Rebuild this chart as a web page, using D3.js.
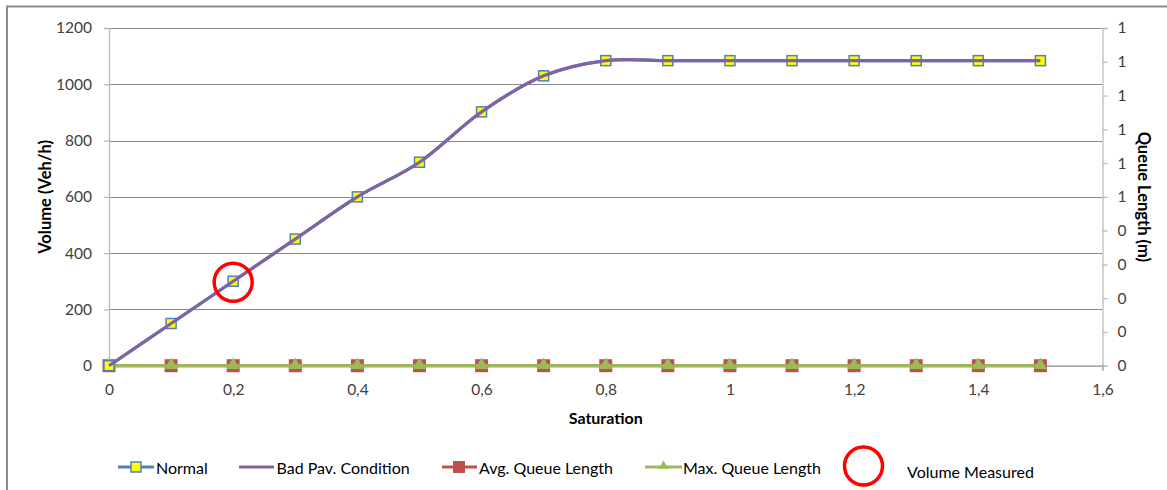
<!DOCTYPE html>
<html>
<head>
<meta charset="utf-8">
<script src="https://cdn.jsdelivr.net/npm/d3@7"></script>
<style>
  html, body { margin: 0; padding: 0; background: #fff; }
  svg { display: block; font-family: Lato, "Open Sans", sans-serif; }
</style>
</head>
<body>
<svg id="chart" width="1167" height="490"></svg>
<script>
// Saturation steps on the x axis
const saturation = [0, 0.1, 0.2, 0.3, 0.4, 0.5, 0.6, 0.7, 0.8, 0.9, 1.0, 1.1, 1.2, 1.3, 1.4, 1.5];
// Volume (Veh/h)
const normalVolume = [0, 150, 300, 450, 600, 723, 902, 1030, 1084, 1084, 1084, 1084, 1084, 1084, 1084, 1084];
const badPavVolume = [0, 150, 300, 450, 600, 723, 902, 1030, 1084, 1084, 1084, 1084, 1084, 1084, 1084, 1084];
// Queue length (m), right axis
const avgQueue = [0, 0, 0, 0, 0, 0, 0, 0, 0, 0, 0, 0, 0, 0, 0, 0];
const maxQueue = [0, 0, 0, 0, 0, 0, 0, 0, 0, 0, 0, 0, 0, 0, 0, 0];
// Measured point
const measured = [{ x: 0.2, y: 300 }];

// Axis ticks and labels
const xTicks = [0, 0.2, 0.4, 0.6, 0.8, 1.0, 1.2, 1.4, 1.6];
const xTickLabels = ["0", "0,2", "0,4", "0,6", "0,8", "1", "1,2", "1,4", "1,6"];
const yTicks = [0, 200, 400, 600, 800, 1000, 1200];
const yTickLabels = ["0", "200", "400", "600", "800", "1000", "1200"];
const y2Ticks = [0, 0.1, 0.2, 0.3, 0.4, 0.5, 0.6, 0.7, 0.8, 0.9, 1.0];
const y2TickLabels = ["0", "0", "0", "0", "0", "1", "1", "1", "1", "1", "1"];

const C = {
  blue: "#4f81bd", purple: "#8064a2", red: "#c0504d", green: "#9bbb59",
  grid: "#8a8a8a", axis: "#bdbdbd", text: "#404040"
};

const svg = d3.select("#chart");

// chart frame
svg.append("rect").attr("x", 7).attr("y", 6.5).attr("width", 1180).attr("height", 500)
  .attr("fill", "none").attr("stroke", "#8c8c8c").attr("stroke-width", 2);

const x = d3.scaleLinear().domain([0, 1.6]).range([109, 1102.5]);
const y = d3.scaleLinear().domain([0, 1200]).range([365.7, 28]);
const y2 = d3.scaleLinear().domain([0, 1]).range([365.7, 28]);

// horizontal gridlines
svg.append("g").selectAll("line").data(yTicks.slice(1)).join("line")
  .attr("x1", x(0)).attr("x2", x(1.6))
  .attr("y1", d => Math.round(y(d)) + 0.5).attr("y2", d => Math.round(y(d)) + 0.5)
  .attr("stroke", C.grid).attr("stroke-width", 1);

// left axis
const yAxis = d3.axisLeft(y).tickValues(yTicks).tickSize(5).tickPadding(12)
  .tickFormat((d, i) => yTickLabels[i]);
const gy = svg.append("g").attr("transform", `translate(${x(0)},0)`).call(yAxis);

// right axis
const y2Axis = d3.axisRight(y2).tickValues(y2Ticks).tickSize(5).tickPadding(10)
  .tickFormat((d, i) => y2TickLabels[i]);
const gy2 = svg.append("g").attr("transform", `translate(${x(1.6)},0)`).call(y2Axis);

// bottom axis
const xAxis = d3.axisBottom(x).tickValues(xTicks).tickSize(5).tickPadding(13)
  .tickFormat((d, i) => xTickLabels[i]);
const gx = svg.append("g").attr("transform", `translate(0,${y(0)})`).call(xAxis);

[gy, gy2, gx].forEach(g => {
  g.select(".domain").attr("stroke", C.axis).attr("stroke-width", 1.3);
  g.selectAll(".tick line").attr("stroke", C.axis).attr("stroke-width", 1.3);
  g.selectAll(".tick text").attr("fill", C.text).attr("font-size", 15.5)
    .attr("font-family", "Lato, 'Open Sans', sans-serif");
});
gx.select(".domain").attr("stroke", C.grid);

// axis titles
const mid = (y(0) + y(1200)) / 2;
svg.append("text").attr("transform", `translate(51,${mid}) rotate(-90)`)
  .attr("text-anchor", "middle").attr("font-size", 16.5).attr("font-weight", "bold")
  .attr("fill", "#000").text("Volume (Veh/h)");
svg.append("text").attr("transform", `translate(1138,${mid}) rotate(90)`)
  .attr("text-anchor", "middle").attr("font-size", 16.5).attr("font-weight", "bold")
  .attr("fill", "#000").text("Queue Length (m)");
svg.append("text").attr("x", (x(0) + x(1.6)) / 2).attr("y", 424)
  .attr("text-anchor", "middle").attr("font-size", 16).attr("font-weight", "bold")
  .attr("fill", "#000").text("Saturation");

const smooth = d3.curveCardinal.tension(0);
const volLine = d3.line().x((d, i) => x(saturation[i])).y(d => y(d)).curve(smooth);
const qLine = d3.line().x((d, i) => x(saturation[i])).y(d => y2(d));

const plot = svg.append("g");

// queue length series
plot.append("path").attr("d", qLine(avgQueue)).attr("fill", "none")
  .attr("stroke", C.red).attr("stroke-width", 3);
plot.append("g").selectAll("rect").data(avgQueue).join("rect")
  .attr("x", (d, i) => x(saturation[i]) - 6.5).attr("y", d => y2(d) - 6.5)
  .attr("width", 13).attr("height", 13).attr("fill", C.red);
plot.append("path").attr("d", qLine(maxQueue)).attr("fill", "none")
  .attr("stroke", C.green).attr("stroke-width", 3);
const tri = d3.symbol().type(d3.symbolTriangle).size(75);
plot.append("g").selectAll("path").data(maxQueue).join("path")
  .attr("d", tri).attr("transform", (d, i) => `translate(${x(saturation[i])},${y2(d) - 0.5})`)
  .attr("fill", C.green);

// Normal series (smoothed line under its markers)
plot.append("path").attr("d", volLine(normalVolume)).attr("fill", "none")
  .attr("stroke", C.blue).attr("stroke-width", 3);
plot.append("g").selectAll("rect").data(normalVolume).join("rect")
  .attr("x", (d, i) => x(saturation[i]) - 5).attr("y", d => y(d) - 5)
  .attr("width", 10).attr("height", 10).attr("fill", "#ffff00")
  .attr("stroke", C.blue).attr("stroke-width", 1.5);

// Bad pavement condition series
plot.append("path").attr("d", volLine(badPavVolume)).attr("fill", "none")
  .attr("stroke", C.purple).attr("stroke-width", 3.2);

// measured-volume circle
plot.append("g").selectAll("circle").data(measured).join("circle")
  .attr("cx", d => x(d.x)).attr("cy", d => y(d.y) + 1).attr("r", 19)
  .attr("fill", "none").attr("stroke", "#ff0000").attr("stroke-width", 3.5);

// legend
const lg = svg.append("g").attr("font-size", 16).attr("fill", "#000");
const ly = 467;
function legendText(xPos, label, base) {
  lg.append("text").attr("x", xPos).attr("y", base).attr("fill", "#000").text(label);
}
// Normal
lg.append("line").attr("x1", 118).attr("x2", 154).attr("y1", ly).attr("y2", ly)
  .attr("stroke", C.blue).attr("stroke-width", 3);
lg.append("rect").attr("x", 131).attr("y", ly - 5).attr("width", 10).attr("height", 10)
  .attr("fill", "#ffff00").attr("stroke", C.blue).attr("stroke-width", 1.5);
legendText(156, "Normal", ly + 7);
// Bad Pav.
lg.append("line").attr("x1", 239).attr("x2", 274).attr("y1", ly).attr("y2", ly)
  .attr("stroke", C.purple).attr("stroke-width", 3);
legendText(276.5, "Bad Pav. Condition", ly + 7);
// Avg. queue
lg.append("line").attr("x1", 442).attr("x2", 477).attr("y1", ly).attr("y2", ly)
  .attr("stroke", C.red).attr("stroke-width", 3);
lg.append("rect").attr("x", 453).attr("y", ly - 6).attr("width", 12).attr("height", 12)
  .attr("fill", C.red);
legendText(479, "Avg. Queue Length", ly + 7);
// Max. queue
lg.append("line").attr("x1", 645).attr("x2", 682).attr("y1", ly).attr("y2", ly)
  .attr("stroke", C.green).attr("stroke-width", 3);
lg.append("path").attr("d", d3.symbol().type(d3.symbolTriangle).size(40))
  .attr("transform", `translate(663.5,${ly - 1})`).attr("fill", C.green);
legendText(683, "Max. Queue Length", ly + 7);
// Volume measured
lg.append("circle").attr("cx", 863.5).attr("cy", ly - 1).attr("r", 19)
  .attr("fill", "none").attr("stroke", "#ff0000").attr("stroke-width", 3.5);
legendText(907, "Volume Measured", ly + 11);
</script>
</body>
</html>
